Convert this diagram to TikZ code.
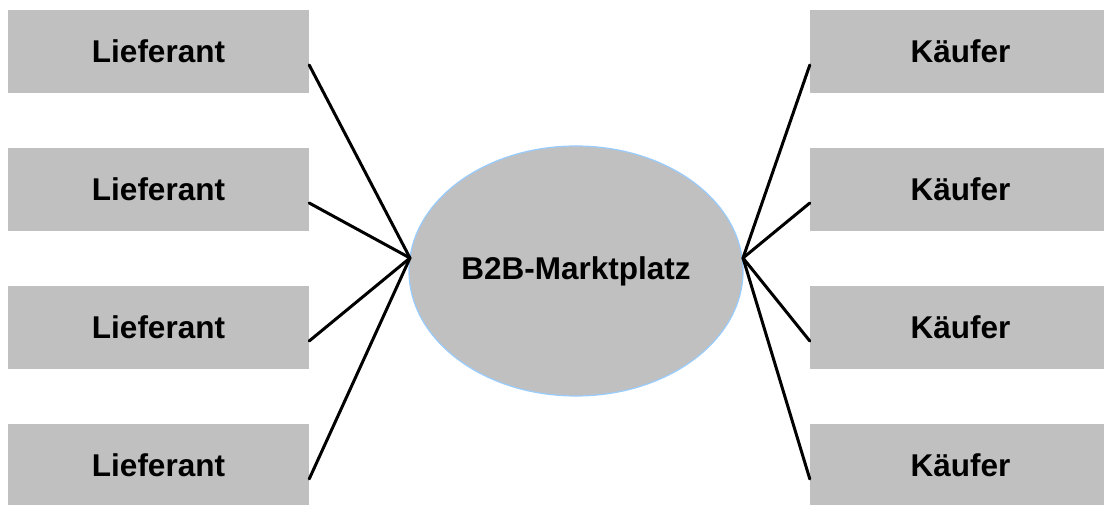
\documentclass[tikz,border=0pt]{standalone}
\usepackage{fontspec}
\setmainfont{Liberation Sans}
\usepackage{xcolor}
\usepackage{tikz}
\usetikzlibrary{shapes.geometric}

\definecolor{boxgray}{HTML}{C0C0C0}
\definecolor{rimblue}{HTML}{99CCFF}

\begin{document}
\begin{tikzpicture}[x=1pt,y=-1pt,
    party/.style={fill=boxgray,minimum width=301pt,minimum height=83pt,inner sep=0pt,
        font=\fontsize{31.5}{36}\selectfont\bfseries},
    market/.style={ellipse,fill=boxgray,draw=rimblue,line width=1.2pt,
        minimum width=334pt,minimum height=250pt,inner sep=0pt,
        font=\fontsize{31.5}{36}\selectfont\bfseries},
    link/.style={line width=3pt,line cap=round}]
    \useasboundingbox (0,0) rectangle (1104,505);

    % Marketplace in the middle
    \node[market] (mp) at (576,271) {B2B-Marktplatz};
    \coordinate (hubL) at (410,258);
    \coordinate (hubR) at (743,258);

    % Suppliers
    \node[party] (sup1) at (158.5,51.5) {Lieferant};
    \node[party] (sup2) at (158.5,189.5) {Lieferant};
    \node[party] (sup3) at (158.5,327.5) {Lieferant};
    \node[party] (sup4) at (158.5,465.5) {Lieferant};

    % Buyers
    \node[party] (buy1) at (960.5,51.5) {Käufer};
    \node[party] (buy2) at (960.5,189.5) {Käufer};
    \node[party] (buy3) at (960.5,327.5) {Käufer};
    \node[party] (buy4) at (960.5,465.5) {Käufer};

    % Links
    \draw[link] ([yshift=-13.5pt]sup1.east) -- (hubL);
    \draw[link] ([yshift=-13.5pt]sup2.east) -- (hubL);
    \draw[link] ([yshift=-13.5pt]sup3.east) -- (hubL);
    \draw[link] ([yshift=-13.5pt]sup4.east) -- (hubL);
    \draw[link] ([yshift=-13.5pt]buy1.west) -- (hubR);
    \draw[link] ([yshift=-13.5pt]buy2.west) -- (hubR);
    \draw[link] ([yshift=-13.5pt]buy3.west) -- (hubR);
    \draw[link] ([yshift=-13.5pt]buy4.west) -- (hubR);
\end{tikzpicture}
\end{document}
